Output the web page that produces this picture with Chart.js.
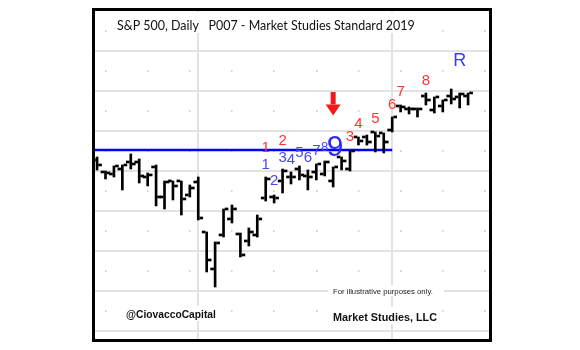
<!DOCTYPE html>
<html lang="en">
<head>
<meta charset="UTF-8">
<title>S&amp;P 500, Daily</title>
<script src="https://cdn.jsdelivr.net/npm/chart.js@4.4.1/dist/chart.umd.min.js"></script>
<style>
    body { margin: 0; background: #fff; }
    .wrap { position: relative; width: 580px; height: 350px; overflow: hidden; }
    .frame {
        position: absolute; left: 92px; top: 8px; width: 400px; height: 334px;
        border: 3px solid #000; box-sizing: border-box; pointer-events: none;
    }
</style>
</head>
<body>
<div class="wrap">
    <canvas id="chart" width="580" height="350"></canvas>
    <div class="frame"></div>
</div>
<script>
// daily bars, oldest first
const opens  = [2762.5, 2747.5, 2745, 2751.3, 2760, 2760, 2741.3, 2753.8, 2716.3, 2736.3, 2736.3, 2718.8, 2735, 2672.5, 2626.3,
                2668.8, 2688.8, 2670, 2661.3, 2668.8, 2715, 2716.3, 2736.3, 2741.3, 2751.3, 2742.5, 2747.5, 2745, 2736.3, 2766.3,
                2751.3, 2791.3, 2791.3, 2797.5, 2796.3, 2800, 2830, 2826.3, 2826.3, 2842.5, 2825, 2830, 2842.5, 2841.3, 2842.5];
const highs  = [2767.5, 2750, 2756.3, 2757.5, 2771.3, 2765, 2747.5, 2757.5, 2737.5, 2737.5, 2737.5, 2732.5, 2742.5, 2673.8, 2661.3,
                2702.5, 2707.5, 2672.5, 2678.8, 2695, 2742.5, 2720, 2752.5, 2748.8, 2756.3, 2751.3, 2758.8, 2762.5, 2755, 2767.5,
                2775, 2792.5, 2795, 2798.8, 2797.5, 2817.5, 2832.5, 2830, 2828.8, 2847.5, 2842.5, 2838.8, 2852.5, 2847.5, 2847.5];
const lows   = [2751.3, 2740, 2742.5, 2726.3, 2752.5, 2735, 2731.3, 2706.3, 2702.5, 2713.8, 2695, 2717.5, 2688.8, 2623.8, 2605,
                2667.5, 2685, 2642.5, 2656.3, 2667.5, 2712.5, 2710, 2722.5, 2733.8, 2738.8, 2726.3, 2738.8, 2743.8, 2730, 2751.3,
                2750, 2782.5, 2782.5, 2773.8, 2772.5, 2798.8, 2823.8, 2821.3, 2817.5, 2832.5, 2822.5, 2823.8, 2833.8, 2828.8, 2832.5];
const closes = [2756.3, 2746.3, 2755, 2756.3, 2757.5, 2742.5, 2743.8, 2716.3, 2735, 2730, 2713.8, 2727.5, 2690, 2637.5, 2658.8,
                2701.3, 2701.3, 2643.8, 2672.5, 2688.8, 2738.8, 2715, 2748.8, 2741.3, 2743.8, 2741.3, 2757.5, 2760, 2753.8, 2761.3,
                2773.8, 2786.3, 2785, 2792.5, 2785, 2816.3, 2828.8, 2826.3, 2826.3, 2837.5, 2841.3, 2837.5, 2838.8, 2845, 2846.3];

// blue setup count (bar index, level, text)
const setupBars   = [20, 21, 22, 23, 24, 25, 26, 27, 28];
const setupLevels = [2757.5, 2737.5, 2766.3, 2763.8, 2772.5, 2766.3, 2775, 2780, 2778.8];
const setupText   = ['1', '2', '3', '4', '5', '6', '7', '8', '9'];

// red countdown
const countBars   = [20, 22, 30, 31, 33, 35, 36, 39];
const countLevels = [2778.8, 2787.5, 2792.5, 2808.8, 2815, 2832.5, 2848.8, 2862.5];
const countText   = ['1', '2', '3', '4', '5', '6', '7', '8'];

// "R" mark, sell arrow, support level
const rBar = 43, rLevel = 2887.5;
const arrowBar = 28, arrowTop = 2848.8, arrowTip = 2819.5;
const levelPrice = 2776.3, levelEnd = 35;

// axis ranges
const xMin = -0.6, xMax = 46.6;
const yMin = 2538.75, yMax = 2950;
const monthLines = [12, 35];
const weekLines = [];
for (let i = 1; i < 47; i += 5) weekLines.push(i);
const priceLines = [];
for (let p = 2550; p <= 2900; p += 50) priceLines.push(p);

const bars = opens.map((o, i) => i);

const marksPlugin = {
    id: 'marks',
    afterDatasetsDraw(chart) {
        const { ctx, scales: { x, y } } = chart;
        ctx.save();

        // red arrow
        const ax = x.getPixelForValue(arrowBar);
        const top = y.getPixelForValue(arrowTop);
        const tip = y.getPixelForValue(arrowTip);
        const headH = 11;
        ctx.fillStyle = '#f21a1a';
        ctx.fillRect(ax - 2.5, top, 5, tip - headH - top);
        ctx.beginPath();
        ctx.moveTo(ax - 7.5, tip - headH);
        ctx.lineTo(ax + 7.5, tip - headH);
        ctx.lineTo(ax, tip);
        ctx.closePath();
        ctx.fill();

        ctx.textAlign = 'center';
        ctx.textBaseline = 'middle';

        countBars.forEach((b, k) => {
            ctx.fillStyle = '#ff3434';
            ctx.font = '15px "Liberation Sans", Arial, sans-serif';
            ctx.fillText(countText[k], x.getPixelForValue(b), y.getPixelForValue(countLevels[k]));
        });

        setupBars.forEach((b, k) => {
            const big = setupText[k] === '9';
            ctx.fillStyle = big ? '#2a2aff' : '#4646ff';
            ctx.font = big ? '30px "Liberation Sans", Arial, sans-serif'
                : (setupText[k] === '8' ? '13px "Liberation Sans", Arial, sans-serif' : '15px "Liberation Sans", Arial, sans-serif');
            ctx.fillText(setupText[k], x.getPixelForValue(b) + (big ? 2 : 0), y.getPixelForValue(setupLevels[k]));
        });

        ctx.fillStyle = '#3a3aff';
        ctx.font = '18px "Liberation Sans", Arial, sans-serif';
        ctx.fillText('R', x.getPixelForValue(rBar), y.getPixelForValue(rLevel));

        ctx.restore();
    }
};

// fixed captions
function fitFont(ctx, text, weight, family, width) {
    ctx.font = weight + ' 20px ' + family;
    const size = 20 * width / ctx.measureText(text).width;
    return weight + ' ' + size.toFixed(2) + 'px ' + family;
}

const captionsPlugin = {
    id: 'captions',
    afterDraw(chart) {
        const ctx = chart.ctx;
        ctx.save();
        ctx.textBaseline = 'alphabetic';
        ctx.textAlign = 'left';

        ctx.fillStyle = '#fff';
        ctx.fillRect(108, 12, 316, 21);
        ctx.fillStyle = '#111';
        const title = 'S&P 500, Daily   P007 - Market Studies Standard 2019';
        ctx.font = fitFont(ctx, title, 'normal', 'Lato, "Open Sans", sans-serif', 298);
        ctx.fillText(title, 117, 29.5);

        const note = 'For illustrative purposes only.';
        ctx.fillStyle = '#fff';
        ctx.fillRect(328, 285, 116, 11);
        ctx.fillStyle = '#222';
        ctx.font = fitFont(ctx, note, 'normal', '"Liberation Sans", Arial, sans-serif', 100);
        ctx.fillText(note, 333, 293.5);

        const handle = '@CiovaccoCapital';
        ctx.fillStyle = '#fff';
        ctx.fillRect(123, 306, 96, 15);
        ctx.fillStyle = '#111';
        ctx.font = fitFont(ctx, handle, 'bold', '"Liberation Sans", Arial, sans-serif', 90);
        ctx.fillText(handle, 126, 318);

        const firm = 'Market Studies, LLC';
        ctx.fillStyle = '#fff';
        ctx.fillRect(329, 307, 112, 17);
        ctx.fillStyle = '#111';
        ctx.font = fitFont(ctx, firm, 'bold', '"Liberation Sans", Arial, sans-serif', 104);
        ctx.fillText(firm, 333, 320.5);

        ctx.restore();
    }
};

const hiddenTicks = { display: false };

new Chart(document.getElementById('chart'), {
    type: 'bar',
    data: {
        datasets: [
            {
                label: 'Open',
                data: bars.map(i => ({ x: i, y: [opens[i], opens[i]] })),
                backgroundColor: '#000',
                barThickness: 3,
                minBarLength: 2
            },
            {
                label: 'High-Low',
                data: bars.map(i => ({ x: i, y: [lows[i], highs[i]] })),
                backgroundColor: '#000',
                barThickness: 2
            },
            {
                label: 'Close',
                data: bars.map(i => ({ x: i, y: [closes[i], closes[i]] })),
                backgroundColor: '#000',
                barThickness: 3,
                minBarLength: 2
            },
            {
                type: 'line',
                label: 'Level',
                data: [{ x: xMin, y: levelPrice }, { x: levelEnd, y: levelPrice }],
                borderColor: '#0000ff',
                borderWidth: 2.5,
                pointRadius: 0
            }
        ]
    },
    options: {
        responsive: false,
        animation: false,
        layout: { padding: { left: 92, right: 90, top: 11, bottom: 10 } },
        plugins: { legend: { display: false }, tooltip: { enabled: false } },
        scales: {
            x: {
                type: 'linear', min: xMin, max: xMax, offset: false,
                ticks: hiddenTicks,
                grid: { color: '#e2e2e2', lineWidth: 2, drawTicks: false, offset: false },
                border: { display: false },
                afterBuildTicks: s => { s.ticks = monthLines.map(v => ({ value: v })); }
            },
            xWeeks: {
                type: 'linear', position: 'bottom', min: xMin, max: xMax, offset: false,
                ticks: hiddenTicks,
                grid: { color: '#c4c4c4', lineWidth: 1.5, drawTicks: false, offset: false },
                border: { display: false, dash: [1.5, 38.5], dashOffset: 20.75 },
                afterBuildTicks: s => { s.ticks = weekLines.map(v => ({ value: v })); }
            },
            y: {
                min: yMin, max: yMax,
                ticks: hiddenTicks,
                grid: { color: '#e2e2e2', lineWidth: 2, drawTicks: false },
                border: { display: false },
                afterBuildTicks: s => { s.ticks = priceLines.map(v => ({ value: v })); }
            }
        }
    },
    plugins: [marksPlugin, captionsPlugin]
});
</script>
</body>
</html>
